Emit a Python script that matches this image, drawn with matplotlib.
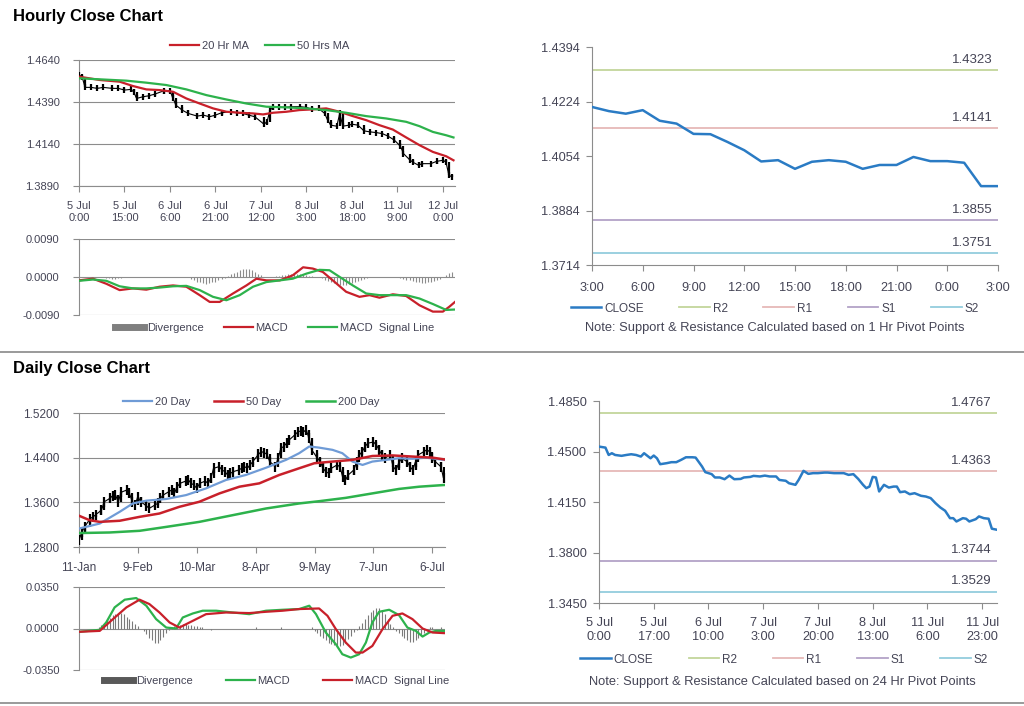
import matplotlib
matplotlib.use("Agg")
import matplotlib.pyplot as plt
from matplotlib.lines import Line2D
import numpy as np

plt.rcParams['font.family'] = ['Liberation Sans', 'DejaVu Sans']

# ---------------- hourly price chart ----------------
h_ticks = [0, 15, 30, 45, 60, 75, 90, 105, 120]
h_labels = ["5 Jul\n0:00", "5 Jul\n15:00", "6 Jul\n6:00", "6 Jul\n21:00", "7 Jul\n12:00",
            "8 Jul\n3:00", "8 Jul\n18:00", "11 Jul\n9:00", "12 Jul\n0:00"]
h_bar = [0,1,2,4,6,8,11,13,15,17,18,19,21,23,25,28,30,31,32,34,36,39,41,43,45,47,50,52,54,56,
         58,61,62,63,64,66,68,70,73,75,77,79,81,82,83,85,86,87,89,90,92,94,96,98,100,102,104,106,
         107,109,110,112,113,116,118,120,121,122,123]
h_close = [1.4550,1.4541,1.4477,1.4477,1.4471,1.4477,1.4471,1.4471,1.4461,1.4465,1.4451,1.4411,
           1.4421,1.4427,1.4437,1.4457,1.4457,1.4411,1.4371,1.4342,1.4322,1.4306,1.4312,1.4302,
           1.4312,1.4326,1.4332,1.4326,1.4322,1.4312,1.4302,1.4258,1.4272,1.4342,1.4358,1.4358,
           1.4358,1.4362,1.4362,1.4358,1.4346,1.4352,1.4322,1.4282,1.4252,1.4246,1.4322,1.4246,
           1.4252,1.4258,1.4252,1.4218,1.4212,1.4208,1.4202,1.4186,1.4163,1.4127,1.4083,1.4047,
           1.4033,1.4013,1.4023,1.4023,1.4037,1.4043,1.4033,1.3954,1.3944]
ma20_x = [0,6.8,13.4,17.8,22.2,26.6,31,35.4,39.8,44.2,48.6,53,57.4,60.7,64,68.4,72.7,77.1,81.5,
          85.9,90.3,94.7,99.1,103.5,107.9,112.3,116.7,121.1,123.5]
ma20_y = [1.4541,1.4521,1.4511,1.4485,1.4465,1.4461,1.4451,1.4411,1.4381,1.4352,1.4332,1.4326,
          1.4322,1.4316,1.4326,1.4332,1.4342,1.4346,1.4352,1.4332,1.4306,1.4282,1.4252,1.4226,
          1.4179,1.4133,1.4093,1.4067,1.4043]
ma50_x = [0,6.8,15.6,22.2,28.8,35.4,42,48.6,55.2,61.8,68.4,75,81.5,88.1,94.7,101.3,107.9,112.3,
          116.7,121.1,123.5]
ma50_y = [1.4531,1.4525,1.4517,1.4505,1.4491,1.4465,1.4431,1.4405,1.4381,1.4362,1.4358,1.4352,
          1.4342,1.4326,1.4306,1.4292,1.4272,1.4246,1.4212,1.4192,1.4179]

# hourly MACD
hm_x = [0,4.6,9,13.4,17.8,22.2,26.6,31,35.4,39.8,43.1,46.4,50.8,55.2,58.5,61.8,66.2,70.5,73.9,
        77.1,80.4,83.7,88.1,92.5,95.8,99.1,103.5,107.9,112.3,116.7,120,122.2,124]
hm_macd = [-0.0008,-0.0004,-0.0016,-0.0031,-0.0027,-0.0030,-0.0023,-0.0020,-0.0023,-0.0043,
           -0.0059,-0.0059,-0.0039,-0.0020,-0.0004,-0.0008,-0.0008,0.0004,0.0023,0.0020,0.0012,
           -0.0008,-0.0035,-0.0047,-0.0043,-0.0049,-0.0041,-0.0045,-0.0067,-0.0082,-0.0082,
           -0.0070,-0.0059]
hs_x = [0,4.6,9,13.4,17.8,22.2,26.6,31,35.4,39.8,44.2,48.6,53,57.4,61.8,66.2,70.5,75,79.3,82.6,
        86,90.3,94.7,99.1,103.5,107.9,112.3,116.7,121.1,124]
hs_signal = [-0.0009,-0.0006,-0.0009,-0.0022,-0.0027,-0.0027,-0.0025,-0.0022,-0.0021,-0.0031,
             -0.0047,-0.0055,-0.0043,-0.0023,-0.0012,-0.0008,-0.0004,0.0008,0.0017,0.0016,
             0.0000,-0.0020,-0.0039,-0.0043,-0.0043,-0.0043,-0.0051,-0.0064,-0.0078,-0.0077]
h_div = [0,1,0,0,0,0,0,0,0,
         -2,-3,-4,-4,-3,-2,-1,-1,0,
         0,0,0,0,1,1,0,0,0,0,0,0,0,0,0,0,0,0,-1,
         -5,-8,-11,-13,-15,-16,-15,-13,-11,-8,-5,-2,
         3,7,10,13,16,18,20,19,16,12,8,4,1,
         0,0,1,2,
         3,4,5,6,7,7,6,6,5,4,3,2,1,0,
         -3,-6,-9,-12,-14,-16,-18,-19,-18,-16,-14,-12,-9,-6,-4,-2,-1,
         0,0,1,1,1,0,0,0,-1,-2,-4,
         -6,-8,-10,-12,-13,-14,-14,-13,-12,-10,-7,-4,-1,
         5,10,13]  # x 1e-4

# ---------------- hourly pivot chart ----------------
p1_labels = ["3:00", "6:00", "9:00", "12:00", "15:00", "18:00", "21:00", "0:00", "3:00"]
p1_close = [1.4207,1.4194,1.4186,1.4197,1.4164,1.4155,1.4123,1.4122,1.4098,1.4072,1.4037,1.4041,
            1.4014,1.4036,1.4041,1.4036,1.4014,1.4026,1.4026,1.4051,1.4038,1.4038,1.4033,1.3960,
            1.3960]
p1_levels = {"R2": 1.4323, "R1": 1.4141, "S1": 1.3855, "S2": 1.3751}

# ---------------- daily price chart ----------------
d_ticks = [0, 21, 42, 63, 84, 105, 126]
d_labels = ["11-Jan", "9-Feb", "10-Mar", "8-Apr", "9-May", "7-Jun", "6-Jul"]
d_bar = [0,1,2,4,5,6,8,9,11,12,13,14,15,17,18,19,20,21,22,24,25,27,28,29,30,32,33,34,35,36,
         38,39,40,41,42,43,45,46,47,48,50,51,52,53,54,55,57,58,59,60,61,62,64,65,66,67,68,70,71,72,
         73,74,75,77,78,79,80,81,82,83,85,86,87,88,89,90,92,93,94,95,96,98,99,100,101,102,103,105,
         106,107,108,109,111,112,113,114,115,117,118,119,120,121,123,124,125,126,127,129,130]
d_close = [1.292,1.307,1.316,1.331,1.334,1.338,1.346,1.361,1.367,1.372,1.373,1.361,1.378,1.382,
           1.376,1.361,1.356,1.370,1.361,1.354,1.349,1.355,1.358,1.367,1.373,1.379,1.382,1.376,
           1.388,1.394,1.398,1.400,1.394,1.391,1.385,1.394,1.398,1.394,1.403,1.421,1.424,1.418,
           1.415,1.409,1.412,1.415,1.418,1.421,1.424,1.421,1.427,1.433,1.446,1.451,1.449,1.446,
           1.433,1.424,1.439,1.457,1.460,1.466,1.472,1.481,1.486,1.488,1.486,1.490,1.475,1.454,
           1.439,1.433,1.421,1.415,1.412,1.421,1.427,1.424,1.406,1.400,1.409,1.418,1.433,1.445,
           1.451,1.460,1.466,1.468,1.463,1.454,1.445,1.439,1.445,1.424,1.418,1.430,1.439,1.433,
           1.424,1.418,1.433,1.445,1.451,1.454,1.451,1.439,1.433,1.424,1.403]
d20_x = [0,7.4,14.5,19.2,24,31.1,38.2,45.3,52.4,59.5,66.7,73.8,78.5,82.1,85.6,90.4,93.9,97.5,
         101.1,104.6,109.4,114.1,118.9,123.7,130.1]
d20_y = [1.313,1.322,1.343,1.358,1.363,1.366,1.373,1.385,1.400,1.409,1.422,1.436,1.448,1.460,
         1.458,1.454,1.448,1.433,1.427,1.433,1.436,1.439,1.438,1.440,1.436]
d50_x = [0,3.8,7.4,14.5,21.6,28.7,35.8,42.9,50.1,57.2,64.3,71.4,78.5,83.9,90.4,97.5,104.6,111.8,
         118.9,126.1,130.1]
d50_y = [1.336,1.328,1.325,1.327,1.334,1.340,1.352,1.361,1.376,1.388,1.394,1.409,1.421,1.430,
         1.433,1.436,1.443,1.444,1.442,1.440,1.437]
d200_x = [0,10.9,21.6,31.1,42.9,54.8,66.7,78.5,85.6,95.1,104.6,114.1,121.3,130.1]
d200_y = [1.305,1.306,1.309,1.316,1.325,1.337,1.349,1.358,1.362,1.368,1.376,1.384,1.388,1.391]

# daily MACD
dm_x = [0,7.4,9.7,12.7,16.3,20.4,24,27.5,31.1,34.6,37,40.6,44.1,48.9,54.8,60.7,66.7,72.6,78.5,
        82.1,84.5,88,91.6,93.9,96.9,99.9,102.3,104.6,107,110.6,114.1,117.1,120.1,122.5,124.9,
        127.3,130.1]
dm_macd = [-0.0028,-0.0011,0.0051,0.0178,0.0243,0.0257,0.0192,0.0079,0.0008,0.0000,0.0093,
           0.0127,0.0150,0.0150,0.0135,0.0121,0.0150,0.0158,0.0164,0.0192,0.0121,-0.0034,
           -0.0133,-0.0217,-0.0245,-0.0217,-0.0118,0.0051,0.0141,0.0158,0.0113,0.0008,-0.0020,
           -0.0068,-0.0034,-0.0020,-0.0020]
ds_x = [0,7.4,12.1,16.9,21.6,25.1,28.7,32.3,35.8,40.6,45.3,52.4,60.7,66.7,72.6,78.5,85.6,88.6,
        91.6,95.1,98.7,101.1,104.6,108.2,111.8,115.3,118.9,122.5,126.1,130.1]
ds_signal = [-0.0028,-0.0020,0.0079,0.0178,0.0243,0.0206,0.0135,0.0051,0.0008,0.0065,0.0121,
             0.0135,0.0130,0.0141,0.0150,0.0164,0.0169,0.0107,-0.0006,-0.0118,-0.0203,-0.0203,
             -0.0147,-0.0006,0.0107,0.0127,0.0079,0.0000,-0.0034,-0.0039]
d_div = [0,0,0,0,0,0,0,
         1,3,5,7,9,11,12,13,13,12,10,8,6,4,2,0,
         -2,-5,-8,-10,-12,-12,-10,-7,-4,-1,
         1,2,3,3,4,4,3,3,2,2,1,1,
         0,0,-1,0,0,0,0,0,0,0,0,0,0,0,0,0,0,0,1,0,0,0,0,0,0,0,0,1,0,0,0,0,0,0,0,0,0,0,1,
         -2,-4,-6,-8,-10,-12,-13,-14,-15,-15,-14,-12,-9,-6,-3,-1,
         2,5,8,11,14,16,17,17,15,12,8,4,1,
         -2,-4,-6,-8,-10,-11,-11,-10,-8,-6,-4,-2,
         1,1,0,0,1,0]  # x 1e-3

# ---------------- 24h pivot chart ----------------
p2_ticks = [0, 17, 34, 51, 68, 85, 102, 119]
p2_labels = ["5 Jul\n0:00", "5 Jul\n17:00", "6 Jul\n10:00", "7 Jul\n3:00", "7 Jul\n20:00",
             "8 Jul\n13:00", "11 Jul\n6:00", "11 Jul\n23:00"]
p2_x = [0,2,3,4,5,7,8.5,10,11.5,13,14,16,17,18,19,21,22.5,24,25.5,27,29,30,32,33,35,36,37.5,39,
        40.5,42,44,45,47,48,50,51.5,53,55,56,58,59,61,62,63.5,65,66.5,68,70,71,73,74.5,76,77.5,
        79,80.5,82,83,84,85,86,87,88.5,90,91.5,92.5,93.5,95,96.5,98,100,101.5,103,104.5,106,
        107.5,109,110,111,113,114,115,117,118,119.5,121,122,123.5]
p2_close = [1.4534,1.4527,1.4476,1.4488,1.4476,1.4470,1.4476,1.4481,1.4476,1.4465,1.4488,1.4453,
            1.4472,1.4453,1.4412,1.4419,1.4426,1.4426,1.4442,1.4460,1.4460,1.4458,1.4396,1.4357,
            1.4343,1.4320,1.4320,1.4308,1.4333,1.4308,1.4310,1.4320,1.4324,1.4331,1.4327,1.4333,
            1.4327,1.4327,1.4303,1.4297,1.4280,1.4269,1.4303,1.4366,1.4345,1.4350,1.4350,1.4354,
            1.4354,1.4350,1.4350,1.4350,1.4338,1.4343,1.4310,1.4269,1.4246,1.4257,1.4324,1.4320,
            1.4223,1.4269,1.4250,1.4257,1.4257,1.4218,1.4223,1.4204,1.4211,1.4193,1.4188,1.4177,
            1.4142,1.4112,1.4089,1.4038,1.4038,1.4015,1.4038,1.4034,1.4015,1.4031,1.4050,1.4038,
            1.4034,1.3965,1.3958]
p2_levels = {"R2": 1.4767, "R1": 1.4363, "S1": 1.3744, "S2": 1.3529}

# ---------------- styling ----------------
W, H = 1024, 706
RED = '#c8202a'
GREEN = '#2db24c'
BLUE = '#2a7bc4'
LBLUE = '#6f9bd6'
LEVEL_COL = {"R2": '#c3d69b', "R1": '#e6b9b8', "S1": '#b3a2c7', "S2": '#93cddd'}
AXC = '#8c8c8c'
TXT = '#444455'

fig = plt.figure(figsize=(W / 100, H / 100), dpi=100)


def px_axes(l, t, r, b):
    return fig.add_axes([l / W, 1 - b / H, (r - l) / W, (b - t) / H])


def excel_style(ax, grid=True, size=8):
    for s in ['top', 'right']:
        ax.spines[s].set_visible(False)
    for s in ['left', 'bottom']:
        ax.spines[s].set_color(AXC)
        ax.spines[s].set_linewidth(0.8)
    ax.tick_params(direction='out', length=4, width=0.8, color=AXC, labelsize=size,
                   labelcolor=TXT, pad=3)
    if grid:
        ax.yaxis.grid(True, color=AXC, lw=0.8)
        ax.set_axisbelow(True)


def price_bars(ax, x, close, ms):
    op = [close[0]] + close[:-1]
    ax.plot(x, close, color='black', lw=0.8, zorder=3)
    ax.vlines(x, np.minimum(op, close), np.maximum(op, close), color='black', lw=1.6, zorder=3)
    ax.plot(x, close, ls='none', marker='|', ms=ms, mew=1.6, color='black', zorder=3)


def legend(ax, handles, labels, x, y, colsp, size=8, hl=2.6):
    ax.legend(handles, labels, loc='center', bbox_to_anchor=(x, y), ncol=len(handles),
              frameon=False, fontsize=size, handlelength=hl, handletextpad=0.25,
              columnspacing=colsp, borderaxespad=0, labelcolor=TXT)


def pivot_chart(ax, x, close, levels, ticks, labels, xmax, yticks):
    excel_style(ax, grid=False, size=9.2)
    hs = [ax.plot(x, close, color=BLUE, lw=1.8, zorder=3)[0]]
    for k, v in levels.items():
        hs.append(ax.axhline(v, color=LEVEL_COL[k], lw=1.3))
        ax.annotate(f"{v:.4f}", xy=(1, v), xycoords=('axes fraction', 'data'),
                    xytext=(-4, 3), textcoords='offset points', ha='right', va='bottom',
                    fontsize=9.5, color=TXT)
    ax.set_xlim(0, xmax)
    ax.set_ylim(yticks[-1], yticks[0])
    ax.set_yticks(yticks)
    ax.set_yticklabels([f"{v:.4f}" for v in yticks])
    ax.set_xticks(ticks)
    ax.set_xticklabels(labels)
    ax.tick_params(axis='y', pad=5)
    return hs


# ---- hourly close chart
fig.text(13 / W, 1 - 16 / H, "Hourly Close Chart", fontsize=12, fontweight='bold', va='center')

ax = px_axes(79, 60, 455, 186)
excel_style(ax)
price_bars(ax, h_bar, h_close, 4)
l1, = ax.plot(ma20_x, ma20_y, color=RED, lw=1.6, zorder=4)
l2, = ax.plot(ma50_x, ma50_y, color=GREEN, lw=1.6, zorder=4)
ax.set_xlim(0, 124)
ax.set_ylim(1.3890, 1.4640)
ax.set_yticks([1.4640, 1.4390, 1.4140, 1.3890])
ax.set_yticklabels(["1.4640", "1.4390", "1.4140", "1.3890"])
ax.set_xticks(h_ticks)
ax.set_xticklabels(h_labels, linespacing=1.25)
ax.tick_params(axis='x', pad=7)
ax.tick_params(axis='y', pad=10)
legend(ax, [l1, l2], ["20 Hr MA", "50 Hrs MA"], 0.48, 1.11, 1.5)

ax = px_axes(79, 239, 455, 315)
excel_style(ax)
ax.spines['bottom'].set_visible(False)
ax.vlines(np.arange(len(h_div)), 0, np.array(h_div) * 1e-4, color='#8c8c8c', lw=0.8)
m1, = ax.plot(hm_x, hm_macd, color=RED, lw=1.6, zorder=4)
m2, = ax.plot(hs_x, hs_signal, color=GREEN, lw=1.6, zorder=4)
ax.set_xlim(0, 124)
ax.set_ylim(-0.0090, 0.0090)
ax.set_yticks([0.0090, 0.0, -0.0090])
ax.set_yticklabels(["0.0090", "0.0000", "-0.0090"])
ax.set_xticks([])
ax.tick_params(axis='y', pad=10)
dv = Line2D([], [], color='#7f7f7f', lw=5)
legend(ax, [dv, m1, m2], ["Divergence", "MACD", "MACD  Signal Line"], 0.52, -0.17, 1.8)

ax = px_axes(592, 47, 998, 265)
hs = pivot_chart(ax, np.arange(len(p1_close)), p1_close, p1_levels, list(range(0, 25, 3)),
                 p1_labels, 24, [1.4394, 1.4224, 1.4054, 1.3884, 1.3714])
ax.tick_params(axis='x', pad=8)
legend(ax, hs, ["CLOSE", "R2", "R1", "S1", "S2"], 0.45, -0.20, 3.0, size=8.5)
ax.text(0.45, -0.29, "Note: Support & Resistance Calculated based on 1 Hr Pivot Points",
        transform=ax.transAxes, ha='center', va='center', fontsize=9.3, color=TXT)

# ---- separators
for yy in [352, 703]:
    fig.add_artist(Line2D([0, 1], [1 - yy / H] * 2, color='#9a9a9a', lw=1.4))

# ---- daily close chart
fig.text(13 / W, 1 - 369 / H, "Daily Close Chart", fontsize=12, fontweight='bold', va='center')

ax = px_axes(79, 413, 445, 547)
excel_style(ax)
price_bars(ax, d_bar, d_close, 7)
a1, = ax.plot(d20_x, d20_y, color=LBLUE, lw=1.6, zorder=4)
a2, = ax.plot(d50_x, d50_y, color=RED, lw=1.8, zorder=4)
a3, = ax.plot(d200_x, d200_y, color=GREEN, lw=1.8, zorder=4)
ax.set_xlim(0, 130.5)
ax.set_ylim(1.28, 1.52)
ax.set_yticks([1.52, 1.44, 1.36, 1.28])
ax.set_yticklabels(["1.5200", "1.4400", "1.3600", "1.2800"])
ax.set_xticks(d_ticks)
ax.set_xticklabels(d_labels)
ax.tick_params(axis='x', pad=7, labelsize=8.5)
ax.tick_params(axis='y', pad=10, labelsize=8.5)
legend(ax, [a1, a2, a3], ["20 Day", "50 Day", "200 Day"], 0.47, 1.08, 2.2)

ax = px_axes(79, 587, 445, 670)
excel_style(ax)
ax.spines['bottom'].set_visible(False)
ax.vlines(np.arange(len(d_div)), 0, np.array(d_div) * 1e-3, color='#7a7a7a', lw=0.8)
b1, = ax.plot(dm_x, dm_macd, color=GREEN, lw=1.6, zorder=4)
b2, = ax.plot(ds_x, ds_signal, color=RED, lw=1.6, zorder=4)
ax.set_xlim(0, 130.5)
ax.set_ylim(-0.035, 0.035)
ax.set_yticks([0.035, 0.0, -0.035])
ax.set_yticklabels(["0.0350", "0.0000", "-0.0350"])
ax.set_xticks([])
ax.tick_params(axis='y', pad=10)
dv2 = Line2D([], [], color='#595959', lw=5)
legend(ax, [dv2, b1, b2], ["Divergence", "MACD", "MACD  Signal Line"], 0.54, -0.13, 3.0)

ax = px_axes(599, 401, 997, 603)
hs = pivot_chart(ax, p2_x, p2_close, p2_levels, p2_ticks, p2_labels, 123.6,
                 [1.4850, 1.4500, 1.4150, 1.3800, 1.3450])
ax.tick_params(axis='x', pad=6)
legend(ax, hs, ["CLOSE", "R2", "R1", "S1", "S2"], 0.465, -0.28, 3.0, size=8.5)
ax.text(0.46, -0.39, "Note: Support & Resistance Calculated based on 24 Hr Pivot Points",
        transform=ax.transAxes, ha='center', va='center', fontsize=9.3, color=TXT)

fig.savefig("out.png", dpi=100)
